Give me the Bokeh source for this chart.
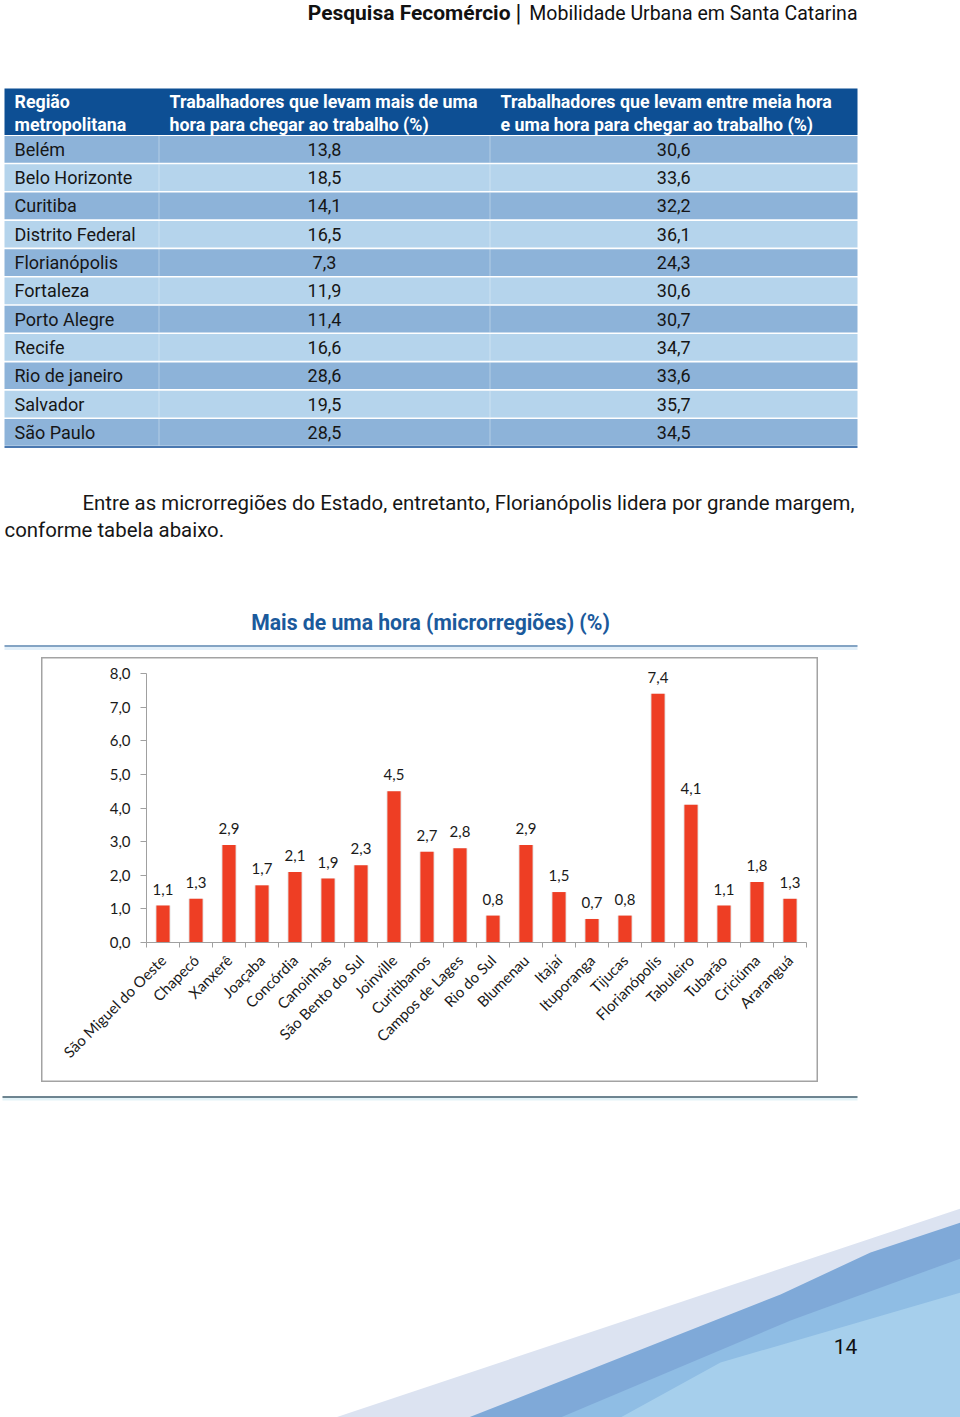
import math
from bokeh.plotting import figure
from bokeh.models import Range1d, LinearAxis, FixedTicker, ColumnDataSource, Spacer
from bokeh.layouts import column, row
from bokeh.embed import file_html
from bokeh.resources import INLINE
from bokeh.core.properties import value

# ---------------- data ----------------
header_bold = "Pesquisa Fecomércio"
header_sep = "|"
header_rest = "Mobilidade Urbana em Santa Catarina"

table_head_1 = ["Região", "metropolitana"]
table_head_2 = ["Trabalhadores que levam mais de uma", "hora para chegar ao trabalho (%)"]
table_head_3 = ["Trabalhadores que levam entre meia hora", "e uma hora para chegar ao trabalho (%)"]
regions = ["Belém", "Belo Horizonte", "Curitiba", "Distrito Federal", "Florianópolis",
           "Fortaleza", "Porto Alegre", "Recife", "Rio de janeiro", "Salvador", "São Paulo"]
more_than_hour = [13.8, 18.5, 14.1, 16.5, 7.3, 11.9, 11.4, 16.6, 28.6, 19.5, 28.5]
half_to_hour = [30.6, 33.6, 32.2, 36.1, 24.3, 30.6, 30.7, 34.7, 33.6, 35.7, 34.5]

paragraph = ["Entre as microrregiões do Estado, entretanto, Florianópolis lidera por grande margem,",
             "conforme tabela abaixo."]

chart_title = "Mais de uma hora (microrregiões) (%)"
microregions = ["São Miguel do Oeste", "Chapecó", "Xanxerê", "Joaçaba", "Concórdia", "Canoinhas",
                "São Bento do Sul", "Joinville", "Curitibanos", "Campos de Lages", "Rio do Sul",
                "Blumenau", "Itajaí", "Ituporanga", "Tijucas", "Florianópolis", "Tabuleiro",
                "Tubarão", "Criciúma", "Araranguá"]
micro_values = [1.1, 1.3, 2.9, 1.7, 2.1, 1.9, 2.3, 4.5, 2.7, 2.8, 0.8, 2.9, 1.5, 0.7, 0.8,
                7.4, 4.1, 1.1, 1.8, 1.3]
y_ticks = [0, 1, 2, 3, 4, 5, 6, 7, 8]
y_tick_labels = ["0,0", "1,0", "2,0", "3,0", "4,0", "5,0", "6,0", "7,0", "8,0"]
page_number = "14"


def br(v):
    return f"{v:.1f}".replace(".", ",")


FONT = "Roboto"
CFONT = "Lato"
DARK = "#161616"
PAGE_W = 960


def blank(fig):
    fig.grid.visible = False
    fig.outline_line_color = None
    fig.background_fill_color = "white"
    fig.border_fill_color = "white"
    return fig


# ---------------- top part (page y 0..657) ----------------
top = figure(width=PAGE_W, height=657, x_range=Range1d(0, PAGE_W), y_range=Range1d(657, 0),
             x_axis_type=None, y_axis_type=None, toolbar_location=None,
             output_backend="svg", min_border=0)
blank(top)

# header
top.text(x=[510], y=[12.5], text=[header_bold], text_align="right", text_baseline="middle",
         text_font=value(FONT), text_font_style="bold", text_font_size="21px", text_color="#111111")
top.text(x=[518], y=[12.5], text=[header_sep], text_align="center", text_baseline="middle",
         text_font=value(FONT), text_font_size="24px", text_color="#111111")
top.text(x=[857], y=[12.5], text=[header_rest], text_align="right", text_baseline="middle",
         text_font=value(FONT), text_font_size="19.5px", text_color="#111111")

# table
TL, TR = 4, 857
C1, C2 = 158.5, 489.5
row_top0, row_h = 135.5, 28.3
top.quad(left=[TL], right=[TR], top=[88], bottom=[134.5], fill_color="#0d4f94", line_color=None)
n = len(regions)
tops = [row_top0 + i * row_h for i in range(n)]
bots = [t + row_h - 1.6 for t in tops]
cols = ["#8db3d9" if i % 2 == 0 else "#b5d4ec" for i in range(n)]
top.quad(left=[TL] * n, right=[TR] * n, top=tops, bottom=bots, fill_color=cols, line_color=None)
for cx in (C1, C2):
    top.segment(x0=[cx] * n, y0=tops, x1=[cx] * n, y1=bots, line_color="white", line_alpha=0.35,
                line_width=1)
top.segment(x0=[TL], y0=[446.5], x1=[TR], y1=[446.5], line_color="#4a78b0", line_width=2)

hx = [14, 169, 500]
for j, lines in enumerate([table_head_1, table_head_2, table_head_3]):
    top.text(x=[hx[j]] * 2, y=[100.5, 123.5], text=lines, text_align="left", text_baseline="middle",
             text_font=value(FONT), text_font_style="bold", text_font_size="17.8px", text_color="white")

centers = [t + (row_h - 1.6) / 2 for t in tops]
top.text(x=[14] * n, y=centers, text=regions, text_align="left", text_baseline="middle",
         text_font=value(FONT), text_font_size="18px", text_color=DARK)
top.text(x=[(C1 + C2) / 2] * n, y=centers, text=[br(v) for v in more_than_hour], text_align="center",
         text_baseline="middle", text_font=value(FONT), text_font_size="18px", text_color=DARK)
top.text(x=[(C2 + TR) / 2] * n, y=centers, text=[br(v) for v in half_to_hour], text_align="center",
         text_baseline="middle", text_font=value(FONT), text_font_size="18px", text_color=DARK)

# paragraph
top.text(x=[82, 4], y=[502, 529], text=paragraph, text_align="left", text_baseline="middle",
         text_font=value(FONT), text_font_size="20.4px", text_color=DARK)

# chart title + rule
top.text(x=[430], y=[622], text=[chart_title], text_align="center", text_baseline="middle",
         text_font=value(FONT), text_font_style="bold", text_font_size="21.2px", text_color="#1b5a9c")
top.segment(x0=[4], y0=[648], x1=[857], y1=[648], line_color="#e2eff9", line_width=3)
top.segment(x0=[4], y0=[645.5], x1=[857], y1=[645.5], line_color="#5b86b1", line_width=1.5)

# ---------------- chart (page x 41..818, y 657..1082) ----------------
PX_CAT = 33.0
PX_UNIT = 33.625
ncat = len(microregions)
chart = figure(width=777, height=425,
               x_range=Range1d((41 - 146) / PX_CAT, (818 - 146) / PX_CAT),
               y_range=Range1d(-(1082 - 942) / PX_UNIT, (942 - 657) / PX_UNIT),
               x_axis_type=None, y_axis_type=None, toolbar_location=None,
               output_backend="svg", min_border=0)
chart.grid.visible = False
chart.background_fill_color = "white"
chart.border_fill_color = "white"
chart.outline_line_color = "#a3a3a3"
chart.outline_line_width = 2

src = ColumnDataSource(dict(x=[i + 0.5 for i in range(ncat)], v=micro_values,
                            lab=[br(v) for v in micro_values]))
chart.vbar(x="x", top="v", bottom=0, width=0.46, source=src, fill_color="#e8e8e8", line_color=None)
chart.vbar(x="x", top="v", bottom=0, width=0.4, source=src, fill_color="#ee3e24", line_color=None)
chart.text(x="x", y="v", text="lab", source=src, text_align="center", text_baseline="bottom",
           y_offset=-11, text_font=value(CFONT), text_font_size="15px", text_color="#1a1a1a")

yaxis = LinearAxis(fixed_location=0, bounds=(0, 8), ticker=FixedTicker(ticks=y_ticks),
                   major_label_overrides={t: l for t, l in zip(y_ticks, y_tick_labels)},
                   axis_line_color="#a0a0a0", major_tick_line_color="#a0a0a0",
                   major_tick_out=6, major_tick_in=0, minor_tick_out=0, minor_tick_in=0,
                   major_label_standoff=10, major_label_text_font=CFONT,
                   major_label_text_font_size="15px", major_label_text_color="#1a1a1a")
chart.add_layout(yaxis, "left")

xline = LinearAxis(fixed_location=0, bounds=(0, ncat), ticker=FixedTicker(ticks=list(range(ncat + 1))),
                   major_label_overrides={i: "" for i in range(ncat + 1)},
                   axis_line_color="#a0a0a0", major_tick_line_color="#a0a0a0",
                   major_tick_out=5, major_tick_in=0, minor_tick_out=0, minor_tick_in=0)
chart.add_layout(xline, "below")

label_ticks = [i + 0.5 for i in range(ncat)]
xlab = LinearAxis(fixed_location=0, ticker=FixedTicker(ticks=label_ticks),
                  major_label_overrides={t: name for t, name in zip(label_ticks, microregions)},
                  axis_line_color=None, major_tick_line_color=None,
                  major_tick_out=5, major_tick_in=0, minor_tick_out=0, minor_tick_in=0,
                  major_label_standoff=10, major_label_orientation=math.pi / 4,
                  major_label_text_font=CFONT, major_label_text_font_size="15px",
                  major_label_text_color="#1a1a1a")
chart.add_layout(xlab, "below")

# ---------------- bottom part (page y 1082..1417) ----------------
bottom = figure(width=PAGE_W, height=335, x_range=Range1d(0, PAGE_W), y_range=Range1d(1417, 1082),
                x_axis_type=None, y_axis_type=None, toolbar_location=None,
                output_backend="svg", min_border=0)
blank(bottom)
bottom.segment(x0=[2], y0=[1098.5], x1=[857], y1=[1098.5], line_color="#e3f3f8", line_width=3)
bottom.segment(x0=[2], y0=[1096.5], x1=[857], y1=[1096.5], line_color="#3f5c6c", line_width=1.5)

bottom.patch(x=[335, 960, 960], y=[1417, 1208, 1417], fill_color="#dce3f1", line_color=None)
bottom.patch(x=[468, 780, 870, 960, 960], y=[1417, 1294, 1252, 1222, 1417], fill_color="#7fa9d8",
             line_color=None)
bottom.patch(x=[560, 790, 960, 960], y=[1417, 1320, 1258, 1417], fill_color="#8fbde4", line_color=None)
bottom.patch(x=[620, 720, 960, 960], y=[1417, 1362, 1292, 1417], fill_color="#a6cfec", line_color=None)
bottom.text(x=[845], y=[1346], text=[page_number], text_align="center", text_baseline="middle",
            text_font=value(FONT), text_font_size="21px", text_color="#111111")

layout = column(top,
                row(Spacer(width=41, height=425), chart, Spacer(width=PAGE_W - 41 - 777, height=425),
                    spacing=0),
                bottom, spacing=0)

open("out.html", "w").write(file_html(layout, INLINE))
